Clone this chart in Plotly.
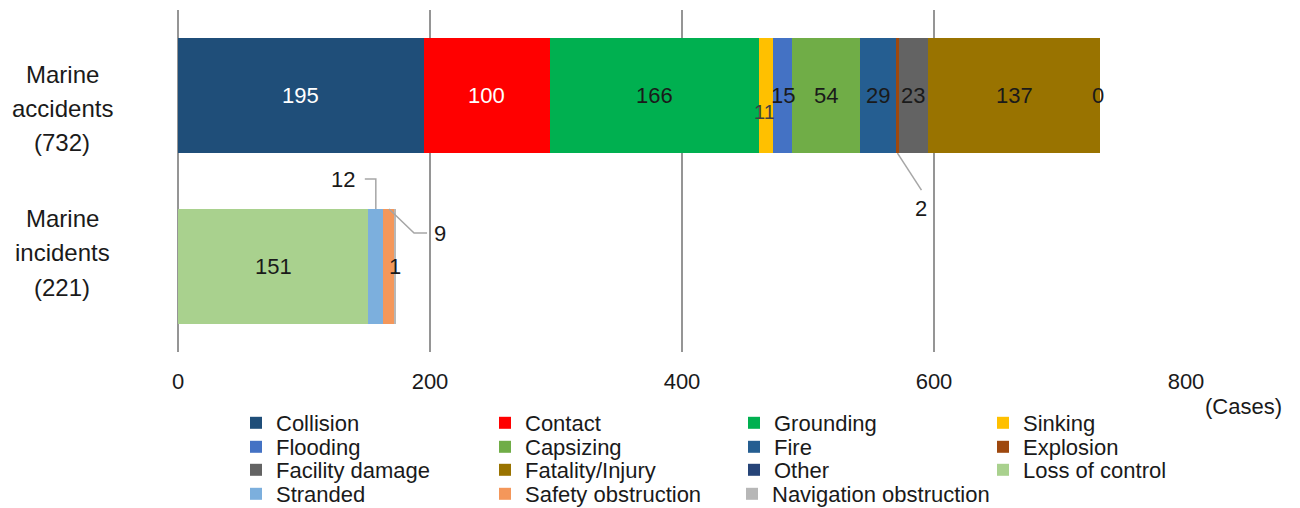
import plotly.graph_objects as go

# ---- data ----
categories = ["Marine accidents", "Marine incidents"]
category_lines = [["Marine", "accidents", "(732)"], ["Marine", "incidents", "(221)"]]

series_names = [
    "Collision", "Contact", "Grounding", "Sinking",
    "Flooding", "Capsizing", "Fire", "Explosion",
    "Facility damage", "Fatality/Injury", "Other", "Loss of control",
    "Stranded", "Safety obstruction", "Navigation obstruction",
]
accident_counts = [195, 100, 166, 11, 15, 54, 29, 2, 23, 137, 0, 0, 0, 0, 0]
incident_counts = [0, 0, 0, 0, 0, 0, 0, 0, 0, 0, 0, 151, 12, 9, 1]
series_colors = [
    "#1F4E79", "#FF0000", "#00B050", "#FFC000",
    "#4472C4", "#70AD47", "#255E91", "#9E480E",
    "#636363", "#997300", "#264478", "#A9D18E",
    "#7CAFDD", "#F4975A", "#B7B7B7",
]
x_ticks = [0, 200, 400, 600, 800]

# ---- layout constants (pixels) ----
W, H = 1300, 508
ML, MR, MT, MB = 178, 114, 10, 156
PW, PH = W - ML - MR, H - MT - MB
X_MAX = 800
PX_PER_UNIT = PW / X_MAX
PX_PER_CAT = PH / 2.0
BAR_WIDTH = 0.673
FONT = "Liberation Sans, Arial, sans-serif"
TXT = "#1a1a1a"

# legend grid: 4 columns, one legend object per row (last entry gets its own
# legend so its long text is not clipped by the fixed entry width)
LEG_COLS = 4
LEG_LEFT = 236
LEG_COL_STEP = 248
LEG_ROWS_PX = [423, 447, 470, 494]


def px_to_paper_x(px):
    return (px - ML) / PW


def px_to_paper_y(py):
    return (H - MB - py) / PH


def dx(px):
    return px / PX_PER_UNIT


def dy(py):
    return py / PX_PER_CAT


def legend_key(i):
    if i == len(series_names) - 1:
        return "legend5"
    row = i // LEG_COLS
    return "legend" if row == 0 else f"legend{row + 1}"


fig = go.Figure()
for i, name in enumerate(series_names):
    fig.add_trace(go.Bar(
        y=[0, 1], x=[accident_counts[i], incident_counts[i]],
        orientation="h", name=name, width=BAR_WIDTH,
        marker=dict(color=series_colors[i], line=dict(width=0)),
        legend=legend_key(i),
        hoverinfo="skip",
    ))

annotations = []
shapes = []

# ---- value labels on the bars ----
white_labels = {"Collision", "Contact"}
leader_labels = {
    # (category index, series): polyline offsets (px) from bar edge and text offset
    (0, "Explosion"): dict(edge=+1, pts=[(0, 0), (24, 37)], text=(24, 55)),
    (1, "Stranded"): dict(edge=-1, pts=[(0, 0), (0, -30), (-11, -30)], text=(-33, -29)),
    (1, "Safety obstruction"): dict(edge=-1, pts=[(0, 0), (25, 24), (38, 24)], text=(51, 25)),
}
for ci, counts in enumerate([accident_counts, incident_counts]):
    left = 0
    total = sum(counts)
    for si, v in enumerate(counts):
        name = series_names[si]
        centre = left + v / 2
        left += v
        is_zero_end = (v == 0 and ci == 0 and name == "Other")
        if v == 0 and not is_zero_end:
            continue
        key = (ci, name)
        if key in leader_labels:
            spec = leader_labels[key]
            y_edge = ci + spec["edge"] * BAR_WIDTH / 2
            pts = [(centre + dx(ox), y_edge + dy(oy)) for ox, oy in spec["pts"]]
            path = "M " + " L ".join(f"{px_:.4f},{py_:.4f}" for px_, py_ in pts)
            shapes.append(dict(type="path", path=path, xref="x", yref="y",
                               line=dict(color="#A6A6A6", width=1.5), layer="above"))
            tx, ty = spec["text"]
            annotations.append(dict(x=centre + dx(tx), y=y_edge + dy(ty), xref="x", yref="y",
                                    text=str(v), showarrow=False,
                                    font=dict(family=FONT, size=22, color=TXT)))
            continue
        size, color, xs, ys = 22, TXT, 0, 0
        if name in white_labels:
            color = "#FFFFFF"
        if key == (0, "Sinking"):
            size, color, xs, ys = 20, "#404040", -1, 16
        if key == (0, "Flooding"):
            xs = 1
        if is_zero_end:
            centre, xs = total, -2
        annotations.append(dict(x=centre, y=ci, xref="x", yref="y", text=str(v),
                                showarrow=False, xshift=xs, yshift=-ys,
                                font=dict(family=FONT, size=size, color=color)))

# ---- category labels ----
cat_line_px = [[74, 108, 143], [218, 252, 287]]
for lines, ys in zip(category_lines, cat_line_px):
    for t, py in zip(lines, ys):
        annotations.append(dict(x=px_to_paper_x(62), y=px_to_paper_y(py), xref="paper", yref="paper",
                                text=t, showarrow=False, xanchor="center", yanchor="middle",
                                font=dict(family=FONT, size=24, color=TXT)))

# ---- unit label ----
annotations.append(dict(x=px_to_paper_x(1243), y=px_to_paper_y(407), xref="paper", yref="paper",
                        text="(Cases)", showarrow=False, xanchor="center", yanchor="middle",
                        font=dict(family=FONT, size=22, color=TXT)))

# ---- legends, positioned in container coordinates ----
legend_common = dict(orientation="h", entrywidth=204, entrywidthmode="pixels",
                     xref="container", yref="container",
                     xanchor="left", yanchor="middle", bgcolor="rgba(0,0,0,0)",
                     font=dict(family=FONT, size=22, color=TXT), itemclick=False,
                     itemdoubleclick=False, traceorder="normal")
legends = {}
for r, py in enumerate(LEG_ROWS_PX):
    key = "legend" if r == 0 else f"legend{r + 1}"
    legends[key] = dict(legend_common, x=LEG_LEFT / W, y=(H - py) / H)
last_col = (len(series_names) - 1) % LEG_COLS
legends["legend5"] = dict(legend_common, entrywidth=260,
                          x=(LEG_LEFT + last_col * LEG_COL_STEP) / W,
                          y=(H - LEG_ROWS_PX[-1]) / H)

fig.update_layout(
    width=W, height=H,
    margin=dict(l=ML, r=MR, t=MT, b=MB, pad=0, autoexpand=False),
    paper_bgcolor="white", plot_bgcolor="white",
    barmode="stack", bargap=0,
    showlegend=True,
    xaxis=dict(range=[0, X_MAX], tickvals=x_ticks, ticktext=[str(t) for t in x_ticks],
               showgrid=True, gridcolor="#959595", gridwidth=2,
               zeroline=True, zerolinecolor="#959595", zerolinewidth=2,
               showline=False, ticks="", ticklabelstandoff=14, automargin=False,
               tickfont=dict(family=FONT, size=22, color=TXT), fixedrange=True),
    yaxis=dict(range=[1.5, -0.5], showticklabels=False, showgrid=False, zeroline=False,
               showline=False, ticks="", fixedrange=True, automargin=False),
    annotations=annotations,
    shapes=shapes,
    **legends,
)

fig.write_html("out.html", config={"displayModeBar": False})
